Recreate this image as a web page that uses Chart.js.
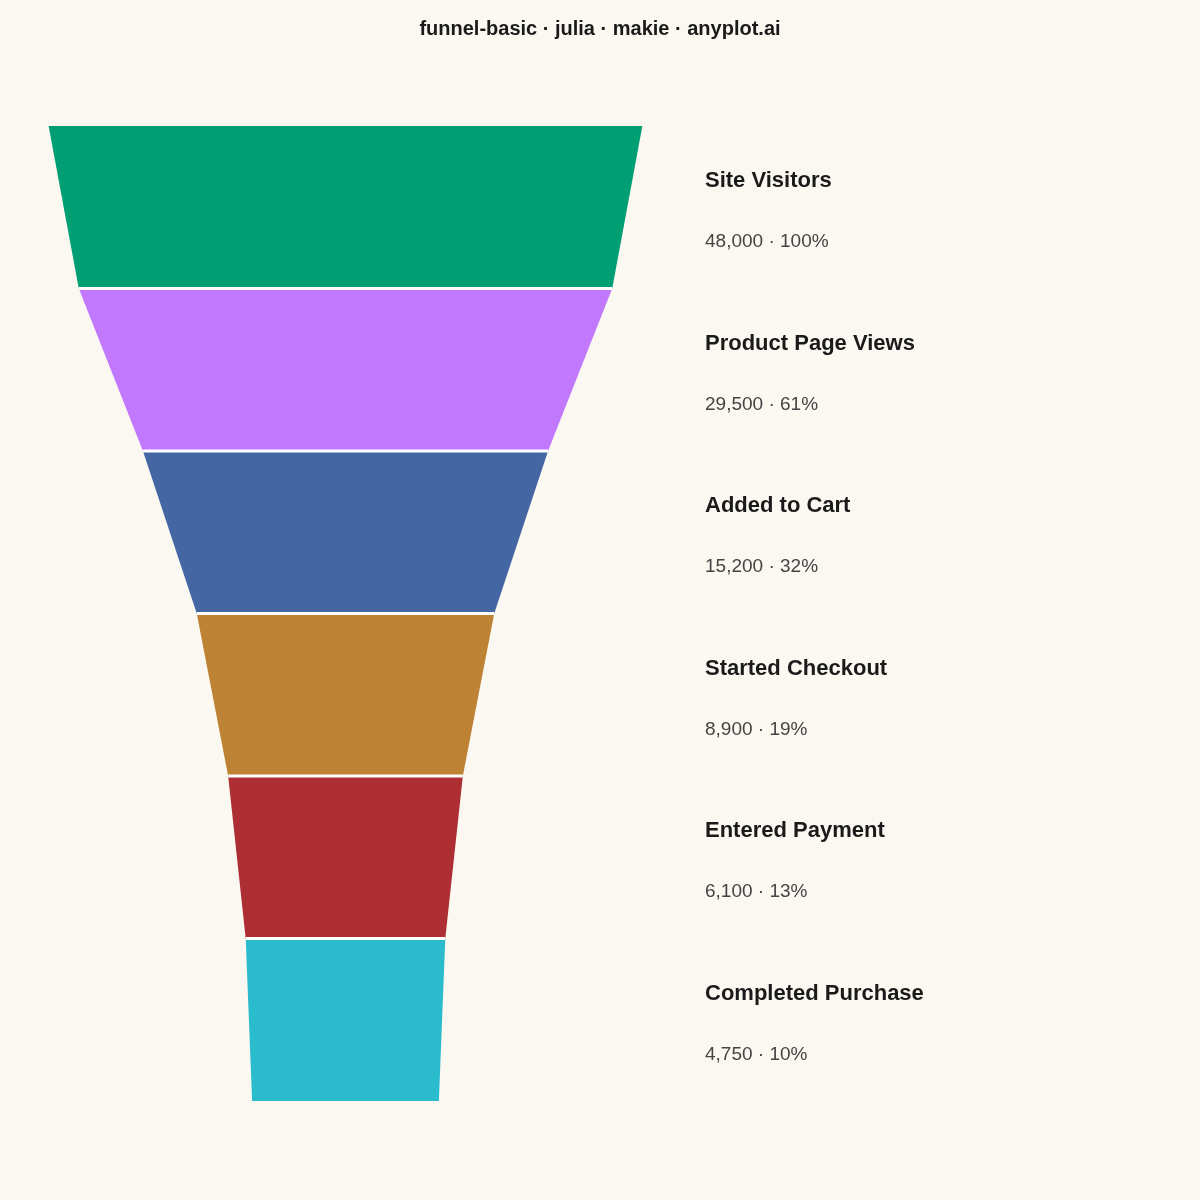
<!DOCTYPE html>
<html>
<head>
<meta charset="utf-8">
<script src="https://cdn.jsdelivr.net/npm/chart.js@4.4.1/dist/chart.umd.min.js"></script>
<style>
  html, body { margin: 0; padding: 0; background: #FAF8F1; }
  #funnelChart { display: block; }
</style>
</head>
<body>
<canvas id="funnelChart" width="1200" height="1200"></canvas>
<script>
const stages = ["Site Visitors", "Product Page Views", "Added to Cart", "Started Checkout", "Entered Payment", "Completed Purchase"];
const counts = [48000, 29500, 15200, 8900, 6100, 4750];
const colors = ["#009E73", "#C178FC", "#4467A3", "#BD8233", "#AE2F33", "#2ABBCD"];

// funnel half-width follows sqrt(count); inner edges sit at the mean of the two stages
const halfWidth = (v) => Math.sqrt(v);
const edgeCounts = [
  counts[0],
  ...counts.slice(1).map((v, i) => (counts[i] + v) / 2),
  counts[counts.length - 1],
];
const edges = edgeCounts.map(halfWidth);

const stageSets = stages.map((stage, i) => ({
  label: stage,
  order: 2,
  data: [
    { x: -edges[i], y: i },
    { x: edges[i], y: i },
    { x: edges[i + 1], y: i + 1 },
    { x: -edges[i + 1], y: i + 1 },
    { x: -edges[i], y: i },
  ],
  showLine: true,
  fill: "shape",
  backgroundColor: colors[i],
  borderColor: "rgba(0,0,0,0)",
  borderWidth: 1,
  pointRadius: 0,
  pointHoverRadius: 0,
  tension: 0,
}));

// white separators between stages
const separatorSets = edges.slice(1, -1).map((w, k) => ({
  label: `sep${k + 1}`,
  order: 1,
  data: [
    { x: -w, y: k + 1 },
    { x: w, y: k + 1 },
  ],
  showLine: true,
  fill: false,
  borderColor: "#ffffff",
  borderWidth: 3,
  pointRadius: 0,
  pointHoverRadius: 0,
}));

const fmt = new Intl.NumberFormat("en-US");

const stageLabels = {
  id: "stageLabels",
  afterDatasetsDraw(chart) {
    const { ctx, scales } = chart;
    const x = 705;
    ctx.save();
    ctx.textAlign = "left";
    ctx.textBaseline = "middle";
    stages.forEach((stage, i) => {
      const yc = scales.y.getPixelForValue(i + 0.5);
      ctx.fillStyle = "#1a1a1a";
      ctx.font = "bold 22px 'Liberation Sans', Arial, sans-serif";
      ctx.fillText(stage, x, yc - 26);
      const pct = Math.round((counts[i] / counts[0]) * 100);
      ctx.fillStyle = "#444444";
      ctx.font = "19px 'Liberation Sans', Arial, sans-serif";
      ctx.fillText(`${fmt.format(counts[i])} · ${pct}%`, x, yc + 35);
    });
    ctx.restore();
  },
};

const PX_PER_UNIT = 1.355;

new Chart(document.getElementById("funnelChart"), {
  type: "scatter",
  data: { datasets: [...stageSets, ...separatorSets] },
  options: {
    responsive: false,
    animation: false,
    devicePixelRatio: 1,
    layout: { padding: { left: 0, right: 0, top: 0, bottom: 99 } },
    plugins: {
      legend: { display: false },
      tooltip: { enabled: false },
      title: {
        display: true,
        text: "funnel-basic · julia · makie · anyplot.ai",
        color: "#1a1a1a",
        font: { family: "'Liberation Sans', Arial, sans-serif", size: 20, weight: "bold" },
        padding: { top: 17, bottom: 85 },
      },
    },
    scales: {
      x: { type: "linear", display: false, min: -345.5 / PX_PER_UNIT, max: 854.5 / PX_PER_UNIT },
      y: { type: "linear", display: false, min: 0, max: 6, reverse: true },
    },
  },
  plugins: [stageLabels],
});
</script>
</body>
</html>
